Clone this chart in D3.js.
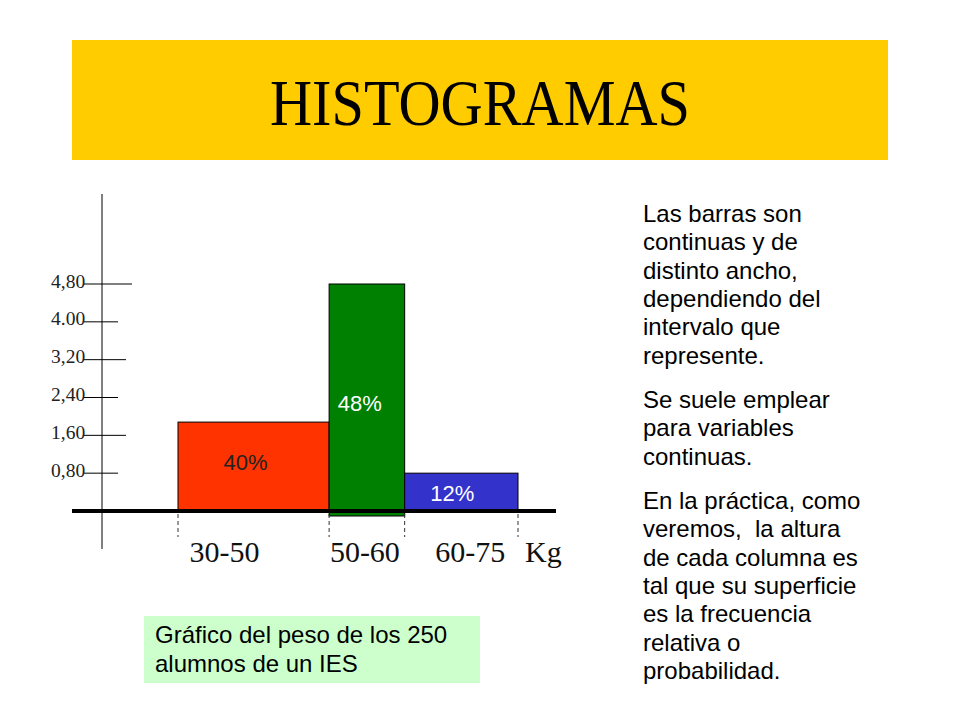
<!DOCTYPE html>
<html>
<head>
<meta charset="utf-8">
<script src="https://cdn.jsdelivr.net/npm/d3@7"></script>
<style>
  html, body { margin: 0; padding: 0; background: #fff; }
  svg { display: block; }
</style>
</head>
<body>
<svg id="chart" width="960" height="720"></svg>
<script>
// ---- data ----
const title = "HISTOGRAMAS";
const categories = ["30-50", "50-60", "60-75"];
const lowerBounds = [30, 50, 60];
const upperBounds = [50, 60, 75];
const densities = [1.88, 4.8, 0.8];
const percentLabels = ["40%", "48%", "12%"];
const unitLabel = "Kg";
const tickValues = [0.8, 1.6, 2.4, 3.2, 4.0, 4.8];
const tickLabels = ["0,80", "1,60", "2,40", "3,20", "4.00", "4,80"];
const paragraphs = [
  ["Las barras son", "continuas y de", "distinto ancho,", "dependiendo del", "intervalo que", "represente."],
  ["Se suele emplear", "para variables", "continuas."],
  ["En la práctica, como", "veremos,  la altura", "de cada columna es", "tal que su superficie", "es la frecuencia", "relativa o", "probabilidad."]
];
const captionLines = ["Gráfico del peso de los 250", "alumnos de un IES"];

// ---- styles ----
const barColors = ["#FF3300", "#008000", "#3333CC"];
const pctColors = ["#222222", "#ffffff", "#ffffff"];
const pctDx = [-8, -7, -9];
const pctDy = [3, 13, 9];
const catDx = [-29, -2, 9];
const tickEnds = [118, 126, 118, 126, 118, 132];
const serif = "'Liberation Serif', 'Times New Roman', serif";
const sans = "'Liberation Sans', Arial, sans-serif";

const svg = d3.select("#chart");

// title band
svg.append("rect").attr("x", 72).attr("y", 40).attr("width", 816).attr("height", 120).attr("fill", "#FFCC00");
svg.append("text").attr("x", 270).attr("y", 125)
  .attr("font-family", serif).attr("font-size", 65)
  .attr("textLength", 420).attr("lengthAdjust", "spacingAndGlyphs")
  .attr("fill", "#000").text(title);

// scales
const x = d3.scaleLinear().domain([30, 75]).range([178, 518]);
const y = d3.scaleLinear().domain([0, 4.8]).range([511, 284]);

// vertical axis
svg.append("line").attr("x1", 102).attr("x2", 102).attr("y1", 194).attr("y2", 549)
  .attr("stroke", "#000").attr("stroke-width", 1);

// ticks
const tg = svg.append("g");
tickValues.forEach((v, i) => {
  tg.append("text").attr("x", 51).attr("y", y(v) + 3.5)
    .attr("font-family", serif).attr("font-size", 19.5).attr("fill", "#222")
    .text(tickLabels[i]);
  tg.append("line").attr("x1", 84).attr("x2", tickEnds[i])
    .attr("y1", y(v)).attr("y2", y(v)).attr("stroke", "#000").attr("stroke-width", 1);
});

// bars
const bars = svg.append("g");
categories.forEach((c, i) => {
  const x0 = x(lowerBounds[i]), x1 = x(upperBounds[i]);
  const extra = i === 1 ? 5 : 0;
  bars.append("rect")
    .attr("x", x0).attr("y", y(densities[i]))
    .attr("width", x1 - x0).attr("height", y(0) - y(densities[i]) + extra)
    .attr("fill", barColors[i]).attr("stroke", "#000").attr("stroke-width", 1);
});

// baseline
svg.append("line").attr("x1", 72).attr("x2", 556).attr("y1", y(0)).attr("y2", y(0))
  .attr("stroke", "#000").attr("stroke-width", 4);

// dashed boundary marks
const bounds = Array.from(new Set(lowerBounds.concat(upperBounds)));
bounds.forEach(b => {
  svg.append("line").attr("x1", x(b)).attr("x2", x(b)).attr("y1", y(0) + 3).attr("y2", 537)
    .attr("stroke", "#333").attr("stroke-width", 1).attr("stroke-dasharray", "4,3");
});

// percent labels
categories.forEach((c, i) => {
  const cx = (x(lowerBounds[i]) + x(upperBounds[i])) / 2 + pctDx[i];
  svg.append("text").attr("x", cx).attr("y", y(densities[i] / 2) + pctDy[i])
    .attr("text-anchor", "middle").attr("font-family", sans).attr("font-size", 22)
    .attr("fill", pctColors[i]).text(percentLabels[i]);
});

// category labels
categories.forEach((c, i) => {
  const cx = (x(lowerBounds[i]) + x(upperBounds[i])) / 2 + catDx[i];
  svg.append("text").attr("x", cx).attr("y", 562)
    .attr("text-anchor", "middle").attr("font-family", serif).attr("font-size", 30)
    .attr("fill", "#111").text(c);
});
svg.append("text").attr("x", 525).attr("y", 562)
  .attr("font-family", serif).attr("font-size", 30).attr("fill", "#111").text(unitLabel);

// right-hand paragraphs
const paraStart = [222, 408, 509];
paragraphs.forEach((lines, p) => {
  lines.forEach((ln, j) => {
    svg.append("text").attr("x", 643).attr("y", paraStart[p] + j * 28.3)
      .attr("font-family", sans).attr("font-size", 24).attr("fill", "#000")
      .attr("xml:space", "preserve").style("white-space", "pre").text(ln);
  });
});

// caption box
svg.append("rect").attr("x", 144).attr("y", 616).attr("width", 336).attr("height", 67).attr("fill", "#CCFFCC");
captionLines.forEach((ln, j) => {
  svg.append("text").attr("x", 155).attr("y", 643 + j * 28.5)
    .attr("font-family", sans).attr("font-size", 24).attr("fill", "#000").text(ln);
});
</script>
</body>
</html>
